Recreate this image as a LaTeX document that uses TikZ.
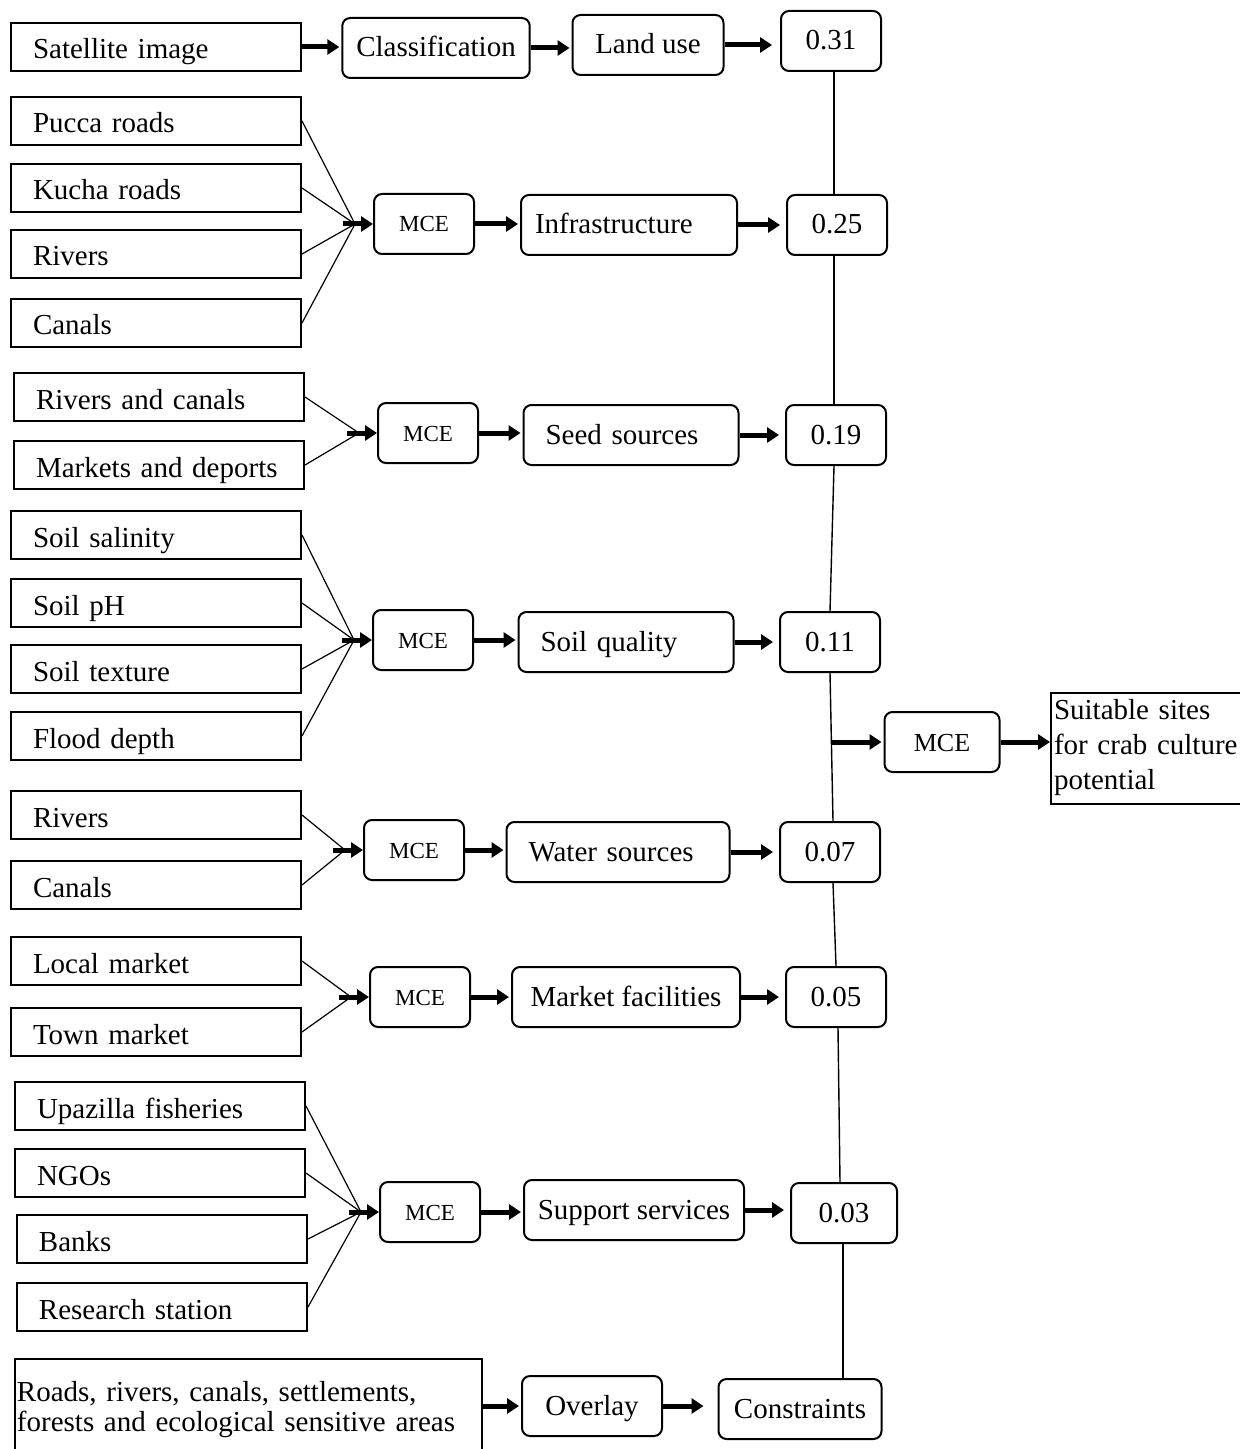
\documentclass[tikz,border=0pt]{standalone}
\usepackage{fontspec}
\setmainfont{Liberation Serif}
\usetikzlibrary{arrows.meta,calc}

\newcommand\txtsize{\fontsize{14.5}{17.5}\selectfont}
\newcommand\mcesize{\fontsize{11.5}{14}\selectfont}

\tikzset{
  src/.style={draw, line width=1pt, anchor=west, minimum height=24pt,
    text width=123pt, inner xsep=11pt, align=left, font=\txtsize,
    text height=12pt, text depth=0pt},
  proc/.style={draw, line width=1pt, rounded corners=4pt, minimum height=30pt,
    inner xsep=7pt, font=\txtsize, text height=11pt, text depth=2pt},
  mce/.style={proc, minimum width=50pt, font=\mcesize, text height=9pt, text depth=1pt},
  wt/.style={proc, minimum width=50pt},
  fan/.style={line width=0.6pt},
  flow/.style={line width=2.5pt, -{Triangle[length=6pt,width=7.5pt]}, shorten >=1pt},
  spine/.style={line width=0.7pt}
}

\begin{document}
\begin{tikzpicture}[x=0.5pt, y=-0.5pt]
  \useasboundingbox (0,0) rectangle (1240,1449);

  % Land use
  \node[src] (sat) at (10,47) {Satellite image};
  \node[proc, minimum width=91pt] (cls) at (436,48) {Classification};
  \node[proc, minimum width=75.5pt] (land) at (648,45) {Land use};
  \node[wt] (w31) at (831,41) {0.31};
  \draw[flow] (sat.east) -- (sat.east -| cls.west);
  \draw[flow] (cls.east) -- (cls.east -| land.west);
  \draw[flow, shorten >=4pt] (land.east) -- (land.east -| w31.west);

  % Infrastructure
  \node[src] (pucca) at (10,121) {Pucca roads};
  \node[src] (kucha) at (10,188) {Kucha roads};
  \node[src] (rivA) at (10,254) {Rivers};
  \node[src] (canA) at (10,323) {Canals};
  \node[mce] (mceA) at (424,224) {MCE};
  \node[proc, text width=94pt, align=left] (infra) at (629,225) {Infrastructure};
  \node[wt] (w25) at (837,225) {0.25};

  % Seed sources
  \node[src] (rivcan) at (13,397) {Rivers and canals};
  \node[src] (mkt) at (13,465) {Markets and deports};
  \node[mce] (mceB) at (428,433) {MCE};
  \node[proc, text width=93.5pt, align=left] (seed) at (631,435) {\hspace*{4pt}Seed sources};
  \node[wt] (w19) at (836,435) {0.19};

  % Soil quality
  \node[src] (sal) at (10,535) {Soil salinity};
  \node[src] (ph) at (10,603) {Soil pH};
  \node[src] (tex) at (10,669) {Soil texture};
  \node[src] (flood) at (10,736) {Flood depth};
  \node[mce] (mceC) at (423,640) {MCE};
  \node[proc, text width=93.5pt, align=left] (soilq) at (626,642) {\hspace*{4pt}Soil quality};
  \node[wt] (w11) at (830,642) {0.11};

  % Water sources
  \node[src] (rivB) at (10,815) {Rivers};
  \node[src] (canB) at (10,885) {Canals};
  \node[mce] (mceD) at (414,850) {MCE};
  \node[proc, text width=97.5pt, align=left] (water) at (618,852) {\hspace*{4pt}Water sources};
  \node[wt] (w07) at (830,852) {0.07};

  % Market facilities
  \node[src] (loc) at (10,961) {Local market};
  \node[src] (town) at (10,1032) {Town market};
  \node[mce] (mceE) at (420,997) {MCE};
  \node[proc, minimum width=114pt, inner xsep=2pt] (mktf) at (626,997) {Market facilities};
  \node[wt] (w05) at (836,997) {0.05};

  % Support services
  \node[src] (upz) at (14,1106) {Upazilla fisheries};
  \node[src] (ngo) at (14,1173) {NGOs};
  \node[src] (bank) at (16,1239) {Banks};
  \node[src] (res) at (16,1307) {Research station};
  \node[mce] (mceG) at (430,1212) {MCE};
  \node[proc, minimum width=110pt, inner xsep=2pt] (supp) at (634,1210) {Support services};
  \node[wt, minimum width=53pt] (w03) at (844,1213) {0.03};

  % Constraints
  \node[draw, line width=1pt, anchor=north west, minimum height=51pt,
    text width=231.5pt, inner xsep=1pt, align=left,
    font=\fontsize{14.5}{15}\selectfont] (area) at (14,1358)
    {Roads, rivers, canals, settlements,\\forests and ecological sensitive areas};
  \node[proc, minimum width=70pt] (ovl) at (592,1406) {Overlay};
  \node[proc, minimum width=81.5pt] (cons) at (800,1409) {Constraints};
  \draw[flow] (area.east |- ovl) -- (ovl);
  \draw[flow, shorten >=7pt] (ovl.east) -- (ovl.east -| cons.west);

  % Fans into the MCE boxes
  \foreach \m/\list in {mceA/{pucca,kucha,rivA,canA}, mceB/{rivcan,mkt},
      mceC/{sal,ph,tex,flood}, mceD/{rivB,canB}, mceE/{loc,town},
      mceG/{upz,ngo,bank,res}} {
    \coordinate (j) at ($(\m.west)+(-18,0)$);
    \foreach \s in \list
      \draw[fan] (\s.east) -- (j);
    \draw[flow, shorten >=0pt] ($(\m.west)+(-30,0)$) -- (\m.west);
  }

  % Factor maps to weights
  \foreach \m/\f/\w in {mceA/infra/w25, mceB/seed/w19, mceC/soilq/w11,
      mceD/water/w07, mceE/mktf/w05, mceG/supp/w03} {
    \draw[flow] (\m.east) -- (\m.east -| \f.west);
    \draw[flow, shorten >=3pt] (\f.east) -- (\f.east -| \w.west);
  }

  % Weight spine
  \coordinate (sb) at ($(w03.south)+(-1,0)$);
  \draw[spine] ($(w31.south)+(3,0)$) -- ($(w25.north)+(-3,0)$);
  \draw[spine] ($(w25.south)+(-3,0)$) -- ($(w19.north)+(-2,0)$);
  \draw[spine] ($(w19.south)+(-2,0)$) -- (w11.north);
  \draw[spine] (w11.south) -- ($(w07.north)+(3,0)$);
  \draw[spine] ($(w07.south)+(3,0)$) -- (w05.north);
  \draw[spine] ($(w05.south)+(2,0)$) -- ($(w03.north)+(-4,0)$);
  \draw[spine] (sb) -- (sb |- cons.north);

  % Final overlay
  \node[proc, minimum width=57.5pt, font=\fontsize{13}{15}\selectfont] (mceF) at (942,742) {MCE};
  \node[draw, line width=1pt, anchor=west, minimum height=55.5pt, text width=95pt,
    inner xsep=1.5pt, align=left, font=\txtsize] (suit) at (1050,748)
    {Suitable sites\\for crab culture\\potential};
  \coordinate (tap) at ($(w11.south)!0.6!($(w07.north)+(3,0)$)$);
  \draw[flow] (tap |- mceF) -- (mceF);
  \draw[flow, shorten >=0pt] (mceF) -- (suit.west |- mceF);
\end{tikzpicture}
\end{document}
